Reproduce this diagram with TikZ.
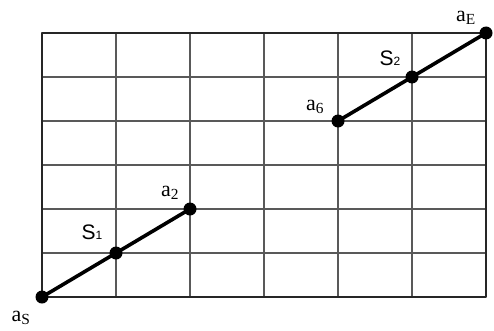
\documentclass[tikz,border=0pt]{standalone}
\usepackage{fontspec}
\setmainfont{Liberation Serif}
\setsansfont{Liberation Sans}
\tikzset{
	dot/.style={circle, fill=black, inner sep=0pt, minimum size=13pt},
	alab/.style={font=\fontsize{22}{24}\selectfont, inner sep=0pt},
	slab/.style={font=\sffamily\fontsize{21}{23}\selectfont, inner sep=0pt},
}
\begin{document}
\begin{tikzpicture}[x=74pt, y=44pt, line join=round, line cap=round]
			\useasboundingbox (-42pt,-33pt) rectangle (452pt,297pt);
			\foreach \x in {1,2,3,4,5} {
				\draw[gray!70!black, line width=1.1pt] (\x,0) -- (\x,6);	}
			\foreach \y in {1,2,3,4,5} {
				\draw[gray!70!black, line width=1.1pt] (0,\y) -- (6,\y);	}
			\draw[line width=1.5pt, black!85] (0,0) rectangle (6,6);
			\node[dot] (aS) at (0,0) {};
			\node[dot] (S1) at (1,1) {};
			\node[dot] (a2) at (2,2) {};
			\node[dot] (a6) at (4,4) {};
			\node[dot] (S2) at (5,5) {};
			\node[dot] (aE) at (6,6) {};
			\draw[line width=3.6pt] (aS.center) -- (S1.center) -- (a2.center);
			\draw[line width=3.6pt] (a6.center) -- (S2.center) -- (aE.center);
			\node[alab] (laS) at (-21pt,-21pt) {a\textsubscript{S}};
			\node[slab] (lS1) at (50pt,65pt) {S{\fontsize{12}{13}\selectfont 1}};
			\node[alab] (la2) at (128pt,104pt) {a\textsubscript{2}};
			\node[alab] (la6) at (273pt,190pt) {a\textsubscript{6}};
			\node[slab] (lS2) at (348pt,239pt) {S{\fontsize{12}{13}\selectfont 2}};
			\node[alab] (laE) at (424pt,279pt) {a\textsubscript{E}};
		\end{tikzpicture}
\end{document}
